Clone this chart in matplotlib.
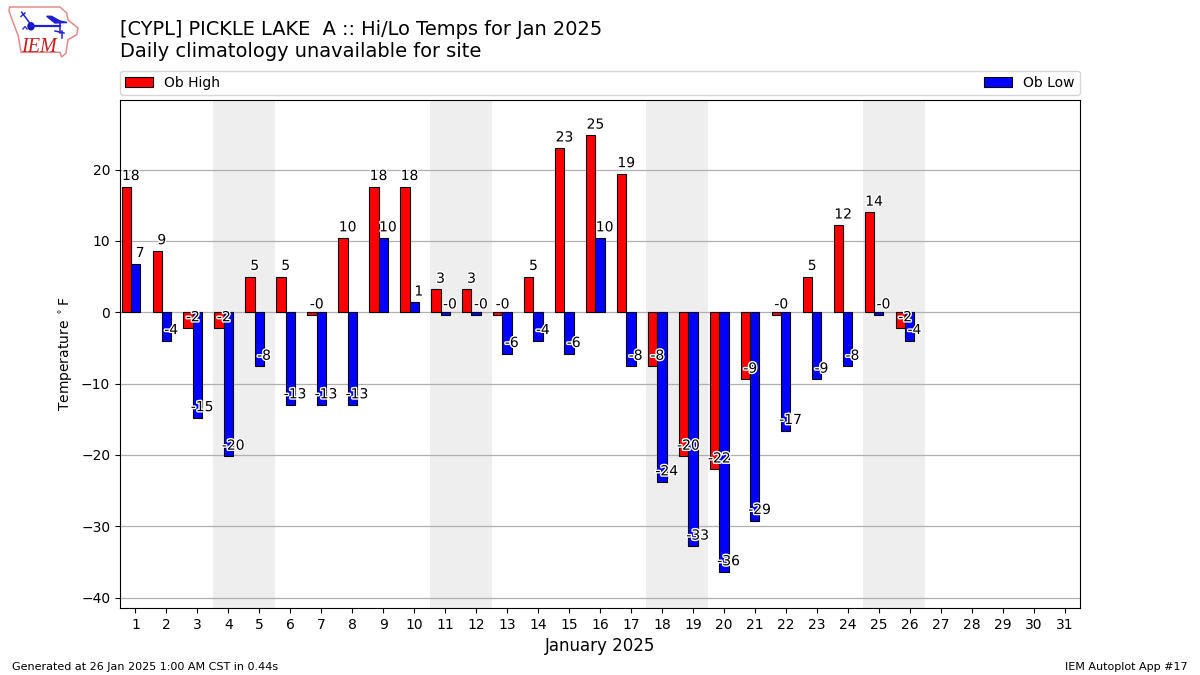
import matplotlib

matplotlib.use("Agg")
import matplotlib.patheffects as pe
import matplotlib.pyplot as plt
from matplotlib.patches import Ellipse, Polygon

days = list(range(1, 27))
highs = [17.6, 8.6, -2.2, -2.2, 5.0, 5.0, -0.4, 10.4, 17.6, 17.6, 3.2, 3.2, -0.4,
         5.0, 23.0, 24.8, 19.4, -7.6, -20.2, -22.0, -9.4, -0.4, 5.0, 12.2, 14.0, -2.2]
lows = [6.8, -4.0, -14.8, -20.2, -7.6, -13.0, -13.0, -13.0, 10.4, 1.4, -0.4, -0.4, -5.8,
        -4.0, -5.8, 10.4, -7.6, -23.8, -32.8, -36.4, -29.2, -16.6, -9.4, -7.6, -0.4, -4.0]
weekend_starts = [4, 11, 18, 25]
xticks = list(range(1, 32))
yticks = [-40, -30, -20, -10, 0, 10, 20]

W, H = 1200, 675


def draw_logo(fig):
    # small sketch of the IEM logo, coordinates are pixels of the figure
    ax = fig.add_axes([0, 1 - 70 / H, 120 / W, 70 / H])
    ax.set_xlim(0, 120)
    ax.set_ylim(70, 0)
    ax.axis("off")
    outline = [(9.7, 7), (60, 7), (66.7, 13), (68, 20), (78, 28), (76.7, 34.7), (68, 39.7),
               (66.7, 48), (66, 53), (61.7, 57), (60, 52.3), (21, 52.3), (18.3, 36),
               (13.3, 23), (9, 11)]
    ax.add_patch(Polygon(outline, closed=True, fill=False, ec="#e58a8a", lw=1.1))
    blue = "#2020d0"
    ax.plot([31, 60], [26.3, 26.3], color=blue, lw=1.6)
    ax.add_patch(Ellipse((31, 26.3), 6, 7, color="#1010c0"))
    ax.add_patch(Polygon([(46.7, 16.3), (51.5, 16.3), (60, 21), (67, 22.5), (55, 23)],
                         closed=True, color=blue))
    ax.plot([60, 60], [22, 33], color=blue, lw=1.1)
    ax.plot([55, 64], [31, 33], color=blue, lw=1.1)
    ax.plot([62.3, 62.3], [31, 38], color=blue, lw=1.1)
    ax.plot([21.7, 31], [12.3, 24.7], color=blue, lw=1.1)
    ax.plot([25, 21], [13, 16.5], color=blue, lw=1.0)
    ax.plot([23, 25, 27], [29, 26.5, 29], color="#4040d0", lw=1.1)
    ax.text(21.5, 51.5, "IEM", color="#c82020", fontsize=14.5, family="Liberation Serif",
            style="italic", va="baseline", ha="left")


fig = plt.figure(figsize=(W / 100, H / 100), dpi=100)
ax = fig.add_axes([120 / W, 1 - 608 / H, 960 / W, 508 / H])

for start in weekend_starts:
    ax.axvspan(start - 0.5, start + 1.5, color="#eeeeee", lw=0, zorder=0)
ax.grid(axis="y", color="#b0b0b0", lw=0.9, zorder=1)
ax.set_axisbelow(True)

x_high = [d - 0.3 for d in days]
ax.bar(x_high, highs, width=0.3, color="r", edgecolor="k", lw=0.8, label="Ob High", zorder=2)
ax.bar(days, lows, width=0.3, color="b", edgecolor="k", lw=0.8, label="Ob Low", zorder=2)

halo = [pe.withStroke(linewidth=2, foreground="white")]
for d, hi, lo in zip(days, highs, lows):
    ax.text(d - 0.15, hi + 1.5, f"{hi:.0f}", ha="center", va="center", fontsize=10,
            path_effects=halo, zorder=3)
    ax.text(d + 0.15, lo + 1.5, f"{lo:.0f}", ha="center", va="center", fontsize=10,
            path_effects=halo, zorder=3)

ax.set_xlim(0.5, 31.5)
ax.set_ylim(-41.45, 29.75)
ax.set_xticks(xticks)
ax.set_yticks(yticks)
ax.set_xlabel("January 2025", fontsize=12)
ax.set_ylabel(r"Temperature $^\circ$F")
ax.legend(loc="lower left", bbox_to_anchor=(0, 1.0097, 1, 0.05), mode="expand", ncol=2,
          borderaxespad=0, fontsize=10, borderpad=0.38)

fig.text(120 / W, 1 - 35 / H, "[CYPL] PICKLE LAKE  A :: Hi/Lo Temps for Jan 2025", fontsize=13.98, va="baseline")
fig.text(120 / W, 1 - 57 / H, "Daily climatology unavailable for site", fontsize=13.98, va="baseline")
fig.text(12 / W, 1 - 670 / H, "Generated at 26 Jan 2025 1:00 AM CST in 0.44s", fontsize=8, va="baseline")
fig.text(1188 / W, 1 - 670 / H, "IEM Autoplot App #17", fontsize=8, ha="right", va="baseline")
draw_logo(fig)

fig.savefig("out.png", dpi=100)
